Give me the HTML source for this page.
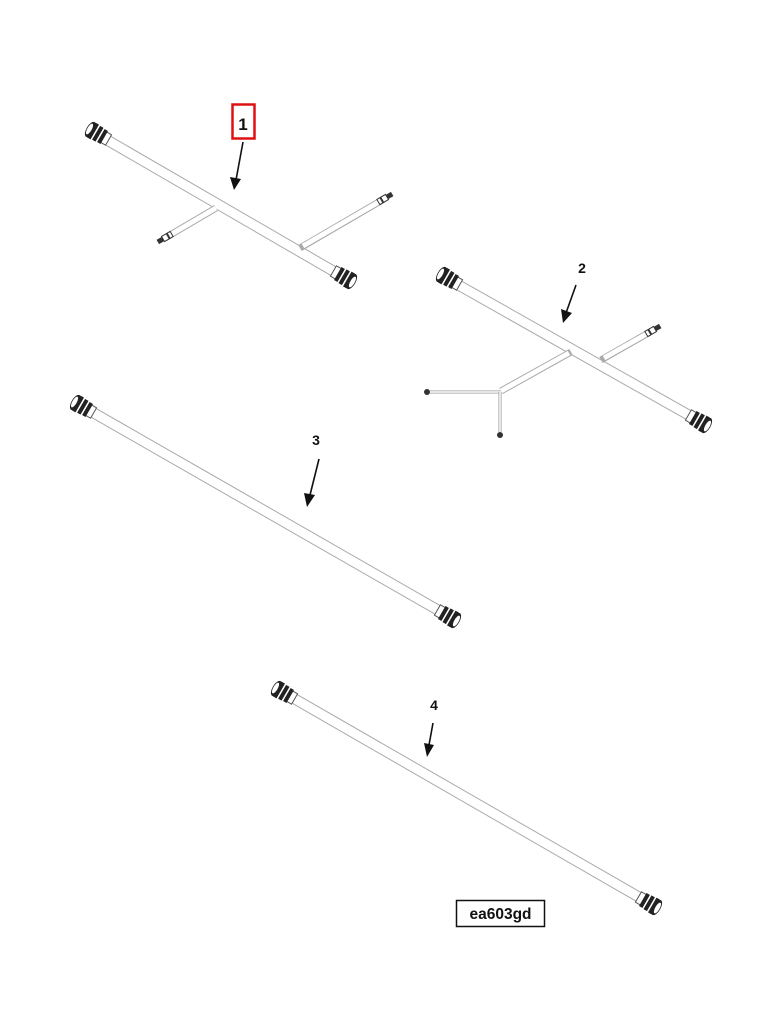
<!DOCTYPE html>
<html><head><meta charset="utf-8"><style>
html,body{margin:0;padding:0;background:#fff;}
svg{display:block;}
text{font-family:"Liberation Sans",Arial,sans-serif;font-weight:bold;fill:#111;}
</style></head><body>
<svg width="760" height="1014" viewBox="0 0 760 1014" xmlns="http://www.w3.org/2000/svg">
<defs>
<g id="conn">
  <rect x="-18" y="-6" width="6" height="12" fill="#fff" stroke="#555" stroke-width="1"/>
  <rect x="-13" y="-7.5" width="4" height="15" fill="#222"/>
  <rect x="-9" y="-7.5" width="1.5" height="15" fill="#fff"/>
  <rect x="-7.5" y="-8" width="4" height="16" fill="#222"/>
  <rect x="-3.5" y="-8" width="1.5" height="16" fill="#fff"/>
  <rect x="-2" y="-8.5" width="4" height="17" fill="#222"/>
  <ellipse cx="3" cy="0" rx="4" ry="8.5" fill="#222"/>
  <ellipse cx="4" cy="0" rx="2.2" ry="6" fill="#fff"/>
</g>
<g id="small">
  <rect x="-10" y="-3" width="10" height="6" fill="#fff" stroke="#333" stroke-width="1"/>
  <rect x="-7" y="-3" width="2" height="6" fill="#333"/>
  <rect x="0" y="-2.5" width="6" height="5" fill="#333"/>
</g>
</defs>
<g fill="none" stroke-linecap="butt">
  <line x1="95" y1="133" x2="347" y2="279" stroke="#aaa" stroke-width="11"/>
  <line x1="95" y1="133" x2="347" y2="279" stroke="#fff" stroke-width="9"/>
  <line x1="216" y1="208" x2="165" y2="238" stroke="#aaa" stroke-width="7"/>
  <line x1="216" y1="208" x2="165" y2="238" stroke="#fff" stroke-width="5"/>
  <line x1="300" y1="248" x2="384" y2="199" stroke="#aaa" stroke-width="7"/>
  <line x1="303" y1="246" x2="384" y2="199" stroke="#fff" stroke-width="5"/>
  <line x1="446" y1="278" x2="701" y2="422" stroke="#aaa" stroke-width="11"/>
  <line x1="446" y1="278" x2="701" y2="422" stroke="#fff" stroke-width="9"/>
  <line x1="571" y1="352" x2="501" y2="391" stroke="#aaa" stroke-width="7"/>
  <line x1="569" y1="353" x2="501" y2="391" stroke="#fff" stroke-width="5"/>
  <line x1="601" y1="360" x2="650" y2="332" stroke="#aaa" stroke-width="7"/>
  <line x1="604" y1="358" x2="650" y2="332" stroke="#fff" stroke-width="5"/>
  <line x1="501" y1="392" x2="430" y2="392" stroke="#999" stroke-width="3"/>
  <line x1="501" y1="392" x2="430" y2="392" stroke="#fff" stroke-width="1.5"/>
  <line x1="500" y1="392" x2="500" y2="432" stroke="#999" stroke-width="3"/>
  <line x1="500" y1="392" x2="500" y2="432" stroke="#fff" stroke-width="1.5"/>
  <line x1="80" y1="405" x2="450" y2="617" stroke="#aaa" stroke-width="11"/>
  <line x1="80" y1="405" x2="450" y2="617" stroke="#fff" stroke-width="9"/>
  <line x1="281" y1="691" x2="651" y2="904" stroke="#aaa" stroke-width="11"/>
  <line x1="281" y1="691" x2="651" y2="904" stroke="#fff" stroke-width="9"/>
</g>
<use href="#conn" transform="translate(93,131) rotate(210)"/>
<use href="#conn" transform="translate(349,280) rotate(30)"/>
<use href="#conn" transform="translate(444,276) rotate(210)"/>
<use href="#conn" transform="translate(704,424) rotate(30)"/>
<use href="#conn" transform="translate(78,404) rotate(210)"/>
<use href="#conn" transform="translate(453,619) rotate(30)"/>
<use href="#conn" transform="translate(279,690) rotate(210)"/>
<use href="#conn" transform="translate(654,906) rotate(30)"/>
<use href="#small" transform="translate(163,239) rotate(150)"/>
<use href="#small" transform="translate(387,197) rotate(-30)"/>
<use href="#small" transform="translate(655,329) rotate(-30)"/>
<circle cx="427" cy="392" r="3" fill="#333"/>
<circle cx="500" cy="435" r="3" fill="#333"/>
<rect x="232.5" y="104.5" width="22" height="34" fill="none" stroke="#e01010" stroke-width="2.5"/>
<text x="243" y="130" font-size="17" text-anchor="middle">1</text>
<text x="582" y="273" font-size="14" text-anchor="middle">2</text>
<text x="316" y="445" font-size="14" text-anchor="middle">3</text>
<text x="434" y="710" font-size="14" text-anchor="middle">4</text>
<g stroke="#111" stroke-width="1.6">
  <line x1="243" y1="142" x2="236" y2="180"/>
  <line x1="576" y1="285" x2="566" y2="313"/>
  <line x1="319" y1="459" x2="310" y2="495"/>
  <line x1="433" y1="723" x2="429" y2="745"/>
</g>
<g fill="#111">
  <polygon points="234,190 230,177 241,179"/>
  <polygon points="563,323 561,309 572,313"/>
  <polygon points="307,507 304,493 315,495"/>
  <polygon points="427,757 424,743 434,745"/>
</g>
<rect x="456.5" y="900.5" width="88" height="26" fill="#fff" stroke="#111" stroke-width="1.5"/>
<text x="500.5" y="919" font-size="15.5" text-anchor="middle">ea603gd</text>
</svg>
</body></html>
